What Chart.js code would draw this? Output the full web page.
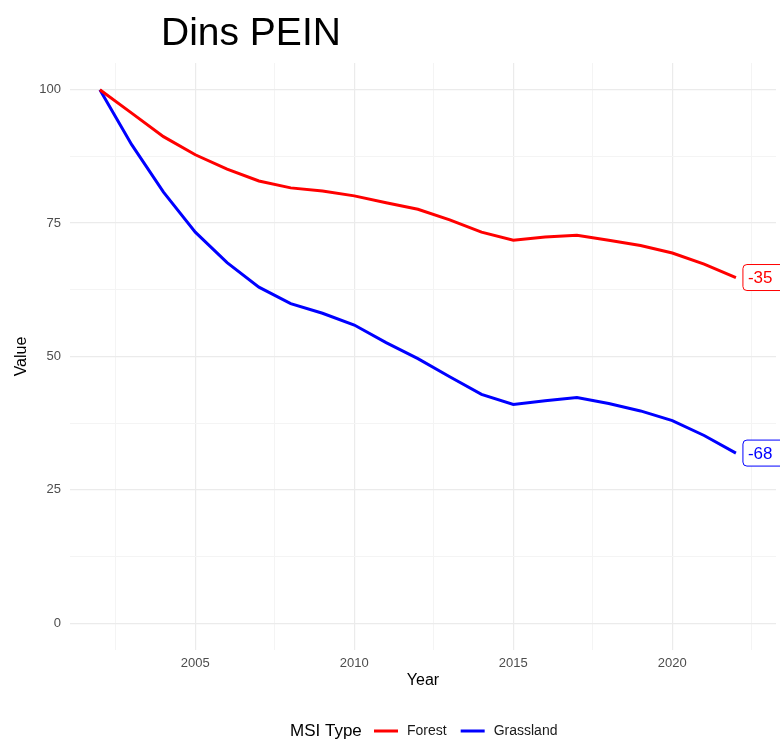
<!DOCTYPE html>
<html>
<head>
<meta charset="utf-8">
<script src="https://cdn.jsdelivr.net/npm/chart.js@4"></script>
<style>
  html, body { margin: 0; padding: 0; background: #fff; }
  #wrap { width: 780px; height: 744px; position: relative; }
</style>
</head>
<body>
<div id="wrap"><canvas id="msiChart" width="780" height="744"></canvas></div>
<script>
// Dades
const years = [2002, 2003, 2004, 2005, 2006, 2007, 2008, 2009, 2010, 2011, 2012,
               2013, 2014, 2015, 2016, 2017, 2018, 2019, 2020, 2021, 2022];
const forestValues = [100, 95.6, 91.2, 87.8, 85.1, 82.9, 81.6, 81.0, 80.1, 78.8, 77.6,
                      75.6, 73.3, 71.8, 72.4, 72.7, 71.8, 70.8, 69.4, 67.3, 64.8];
const grasslandValues = [100, 89.7, 80.8, 73.3, 67.6, 63.0, 59.9, 58.1, 55.9, 52.6, 49.6,
                         46.2, 42.9, 41.0, 41.7, 42.3, 41.2, 39.8, 38.0, 35.2, 31.9];
const seriesNames = ['Forest', 'Grassland'];
const seriesColors = ['#ff0000', '#0000ff'];
const yTickValues = [0, 12.5, 25, 37.5, 50, 62.5, 75, 87.5, 100];
const xTickValues = [2002.5, 2005, 2007.5, 2010, 2012.5, 2015, 2017.5, 2020, 2022.5];

const fontFamily = '"Liberation Sans", Arial, sans-serif';
const majorGrid = '#ebebeb';
const minorGrid = '#f4f4f4';

function toPoints(values) {
    return years.map((y, i) => ({ x: y, y: values[i] }));
}

// Títol, títols d'eixos, etiquetes finals i llegenda
const decorPlugin = {
    id: 'decor',
    afterDatasetsDraw(chart) {
        const ctx = chart.ctx;
        const xs = chart.scales.x;
        const ys = chart.scales.y;
        ctx.save();

        // etiquetes de canvi al final de cada serie
        chart.data.datasets.forEach(ds => {
            const last = ds.data[ds.data.length - 1];
            const first = ds.data[0];
            const change = Math.round(last.y - first.y);
            const px = xs.getPixelForValue(last.x);
            const py = ys.getPixelForValue(last.y);
            const bx = px + 7, bh = 26, bw = 44;
            ctx.beginPath();
            ctx.roundRect(bx, py - bh / 2, bw, bh, 4);
            ctx.fillStyle = '#fff';
            ctx.fill();
            ctx.lineWidth = 1;
            ctx.strokeStyle = ds.borderColor;
            ctx.stroke();
            ctx.fillStyle = ds.borderColor;
            ctx.font = '17px ' + fontFamily;
            ctx.textAlign = 'left';
            ctx.textBaseline = 'middle';
            ctx.fillText(String(change), bx + 5, py + 1);
        });
        ctx.restore();
    },
    afterDraw(chart) {
        const ctx = chart.ctx;
        const area = chart.chartArea;
        ctx.save();
        // títol
        ctx.fillStyle = '#000';
        ctx.font = '39px ' + fontFamily;
        ctx.textAlign = 'left';
        ctx.textBaseline = 'alphabetic';
        ctx.fillText('Dins PEIN', 161, 45);

        // títols dels eixos
        ctx.font = '16px ' + fontFamily;
        ctx.textAlign = 'center';
        ctx.textBaseline = 'middle';
        ctx.fillText('Year', (area.left + area.right) / 2, 681);
        ctx.save();
        ctx.translate(22, (area.top + area.bottom) / 2);
        ctx.rotate(-Math.PI / 2);
        ctx.fillText('Value', 0, 0);
        ctx.restore();

        // llegenda
        const ly = 731;
        ctx.textAlign = 'left';
        ctx.textBaseline = 'middle';
        ctx.font = '17px ' + fontFamily;
        ctx.fillText('MSI Type', 290, ly);
        let x = 374;
        chart.data.datasets.forEach(ds => {
            ctx.strokeStyle = ds.borderColor;
            ctx.lineWidth = 3;
            ctx.beginPath();
            ctx.moveTo(x, ly);
            ctx.lineTo(x + 24, ly);
            ctx.stroke();
            ctx.font = '14px ' + fontFamily;
            ctx.fillStyle = '#1a1a1a';
            ctx.fillText(ds.label, x + 33, ly);
            x += 33 + ctx.measureText(ds.label).width + 14;
        });
        ctx.restore();
    }
};

new Chart(document.getElementById('msiChart'), {
    type: 'line',
    data: {
        datasets: [
            {
                label: seriesNames[0],
                data: toPoints(forestValues),
                borderColor: seriesColors[0],
                borderWidth: 3,
                pointRadius: 0,
                tension: 0,
                fill: false
            },
            {
                label: seriesNames[1],
                data: toPoints(grasslandValues),
                borderColor: seriesColors[1],
                borderWidth: 3,
                pointRadius: 0,
                tension: 0,
                fill: false
            }
        ]
    },
    options: {
        responsive: false,
        animation: false,
        layout: { padding: { top: 63, right: 4, left: 0, bottom: 0 } },
        plugins: {
            legend: { display: false },
            title: { display: false },
            tooltip: { enabled: false }
        },
        scales: {
            x: {
                type: 'linear',
                min: 2001.06,
                max: 2023.26,
                afterFit(scale) { scale.height = 94; },
                afterBuildTicks(scale) {
                    scale.ticks = xTickValues.map(v => ({ value: v }));
                },
                border: { display: false },
                grid: {
                    drawTicks: false,
                    color: c => (c.tick && c.tick.value % 5 === 0) ? majorGrid : minorGrid,
                    lineWidth: c => (c.tick && c.tick.value % 5 === 0) ? 1.2 : 1
                },
                ticks: {
                    autoSkip: false,
                    maxRotation: 0,
                    padding: 6,
                    color: '#4d4d4d',
                    font: { family: fontFamily, size: 13 },
                    callback: v => (v % 5 === 0 ? String(v) : '')
                }
            },
            y: {
                type: 'linear',
                min: -5,
                max: 105,
                afterFit(scale) { scale.width = 70; },
                afterBuildTicks(scale) {
                    scale.ticks = yTickValues.map(v => ({ value: v }));
                },
                border: { display: false },
                grid: {
                    drawTicks: false,
                    color: c => (c.tick && c.tick.value % 25 === 0) ? majorGrid : minorGrid,
                    lineWidth: c => (c.tick && c.tick.value % 25 === 0) ? 1.2 : 1
                },
                ticks: {
                    padding: 9,
                    color: '#4d4d4d',
                    font: { family: fontFamily, size: 13 },
                    callback: v => (v % 25 === 0 ? String(v) : '')
                }
            }
        }
    },
    plugins: [decorPlugin]
});
</script>
</body>
</html>
